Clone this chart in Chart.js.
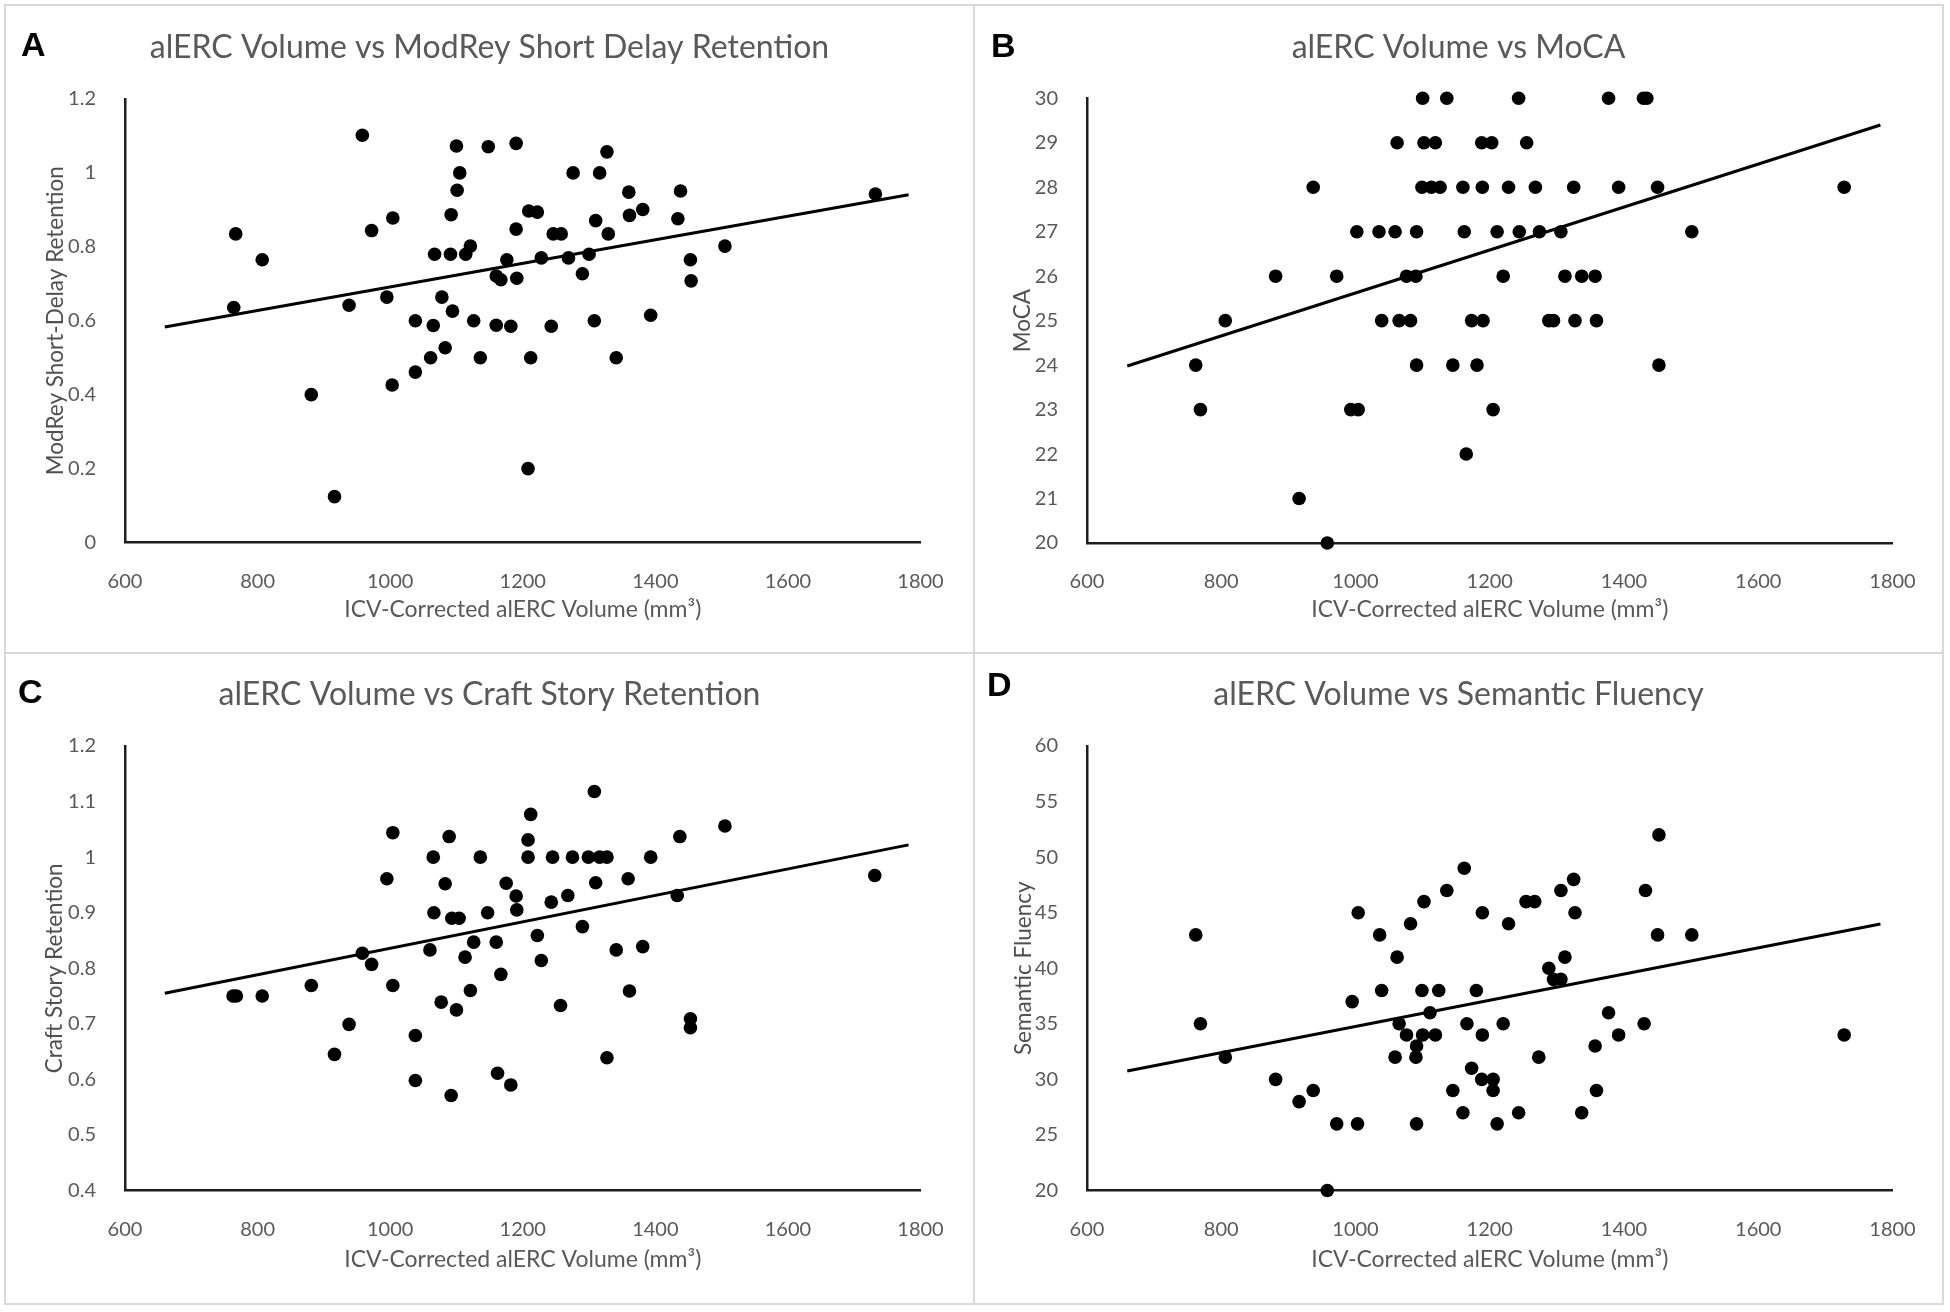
<!DOCTYPE html>
<html>
<head>
<meta charset="utf-8">
<script src="https://cdn.jsdelivr.net/npm/chart.js@4.4.1/dist/chart.umd.min.js"></script>
<style>
  body { margin: 0; background: #fff; width: 1950px; height: 1312px; position: relative; overflow: hidden; }
  .rule { position: absolute; background: #d9d9d9; }
  canvas { position: absolute; }
  .tag { position: absolute; font: bold 34px 'Liberation Sans', Arial, sans-serif; line-height: 34px; color: #000; }
</style>
</head>
<body>
<div class="rule" style="left:4px;top:4px;width:1940px;height:2px"></div>
<div class="rule" style="left:4px;top:1303px;width:1940px;height:2px"></div>
<div class="rule" style="left:4px;top:4px;width:2px;height:1301px"></div>
<div class="rule" style="left:1942px;top:4px;width:2px;height:1301px"></div>
<div class="rule" style="left:973px;top:4px;width:2px;height:1301px"></div>
<div class="rule" style="left:4px;top:652px;width:1940px;height:2px"></div>

<canvas id="chartA" width="967" height="646" style="left:6px;top:6px"></canvas>
<canvas id="chartB" width="967" height="646" style="left:975px;top:6px"></canvas>
<canvas id="chartC" width="967" height="649" style="left:6px;top:654px"></canvas>
<canvas id="chartD" width="967" height="649" style="left:975px;top:654px"></canvas>

<div class="tag" style="left:21px;top:27px">A</div>
<div class="tag" style="left:991px;top:28px">B</div>
<div class="tag" style="left:18px;top:674px">C</div>
<div class="tag" style="left:987px;top:667px">D</div>

<script>
// shared x axis
const volumeTicks = [600, 800, 1000, 1200, 1400, 1600, 1800];
const volumeLabel = 'ICV-Corrected alERC Volume (mm³)';

// A: ModRey short delay retention
const aVolume = [764,767,807,881,916,938,958,972,995,1004,1003,1038,1038,1061,1065,1067,1078,1083,1091,1092,1094,1100,1101,1105,1114,1121,1126,1136,1148,1160,1160,1167,1176,1182,1190,1190,1191,1208,1209,1212,1222,1228,1243,1246,1258,1269,1276,1290,1300,1308,1310,1316,1327,1329,1341,1360,1361,1381,1393,1434,1438,1453,1454,1505,1732];
const aScore = [0.636,0.835,0.765,0.40,0.124,0.642,1.102,0.844,0.664,0.878,0.426,0.60,0.461,0.50,0.587,0.78,0.664,0.527,0.78,0.887,0.626,1.073,0.953,1.0,0.78,0.802,0.60,0.50,1.071,0.721,0.588,0.711,0.765,0.585,1.08,0.848,0.715,0.20,0.897,0.50,0.894,0.77,0.585,0.835,0.835,0.77,1.0,0.727,0.78,0.60,0.871,1.0,1.057,0.835,0.50,0.948,0.885,0.901,0.615,0.876,0.951,0.765,0.708,0.802,0.943];
const aTicks = [0, 0.2, 0.4, 0.6, 0.8, 1, 1.2];
const aTrendX = [660, 1782];
const aTrendY = [0.583, 0.941];

// B: MoCA
const bVolume = [762,769,806,881,916,937,958,972,993,1004,1002,1035,1039,1059,1062,1065,1076,1082,1090,1091,1091,1099,1100,1102,1113,1119,1126,1136,1145,1160,1162,1165,1173,1181,1188,1189,1190,1203,1205,1211,1220,1228,1243,1244,1255,1268,1274,1288,1295,1306,1312,1325,1327,1337,1357,1359,1377,1392,1429,1434,1450,1452,1501,1728];
const bScore = [24,23,25,26,21,28,20,26,23,23,27,27,25,27,29,25,26,25,26,27,24,28,30,29,28,29,28,30,24,28,27,22,25,24,29,28,25,29,23,27,26,28,30,27,29,28,27,25,25,27,26,28,25,26,26,25,30,28,30,30,28,24,27,28];
const bTicks = [20, 21, 22, 23, 24, 25, 26, 27, 28, 29, 30];
const bTrendX = [660, 1782];
const bTrendY = [23.98, 29.4];

// C: Craft story retention
const cVolume = [763,768,807,881,916,938,958,972,995,1004,1004,1038,1038,1060,1065,1066,1077,1083,1089,1092,1093,1100,1104,1113,1121,1126,1136,1147,1160,1162,1167,1175,1190,1191,1182,1208,1208,1212,1222,1228,1243,1245,1257,1268,1275,1290,1299,1308,1310,1316,1327,1327,1341,1359,1361,1381,1393,1433,1437,1453,1453,1505,1731];
const cScore = [0.75,0.75,0.75,0.769,0.645,0.699,0.827,0.807,0.961,1.044,0.769,0.679,0.598,0.833,1.0,0.90,0.739,0.952,1.037,0.571,0.89,0.725,0.89,0.82,0.76,0.847,1.0,0.90,0.847,0.611,0.789,0.953,0.93,0.905,0.59,1.0,1.031,1.077,0.859,0.814,0.919,1.0,0.733,0.931,1.0,0.875,1.0,1.118,0.954,1.0,1.0,0.639,0.833,0.961,0.759,0.839,1.0,0.931,1.037,0.709,0.693,1.056,0.967];
const cTicks = [0.4, 0.5, 0.6, 0.7, 0.8, 0.9, 1, 1.1, 1.2];
const cTrendX = [660, 1782];
const cTrendY = [0.755, 1.022];

// D: Semantic fluency
const dVolume = [762,769,806,881,916,937,958,972,995,1003,1004,1036,1039,1059,1062,1065,1076,1082,1090,1091,1091,1099,1100,1102,1111,1119,1124,1136,1145,1160,1162,1166,1173,1180,1188,1189,1189,1205,1205,1211,1220,1228,1243,1254,1267,1273,1288,1295,1306,1306,1312,1325,1327,1337,1357,1359,1377,1392,1430,1432,1450,1452,1501,1728];
const dScore = [43,35,32,30,28,29,20,26,37,26,45,43,38,32,41,35,34,44,32,33,26,38,34,46,36,34,38,47,29,27,49,35,31,38,30,34,45,30,29,26,35,44,27,46,46,32,40,39,39,47,41,48,45,27,33,29,36,34,35,47,43,52,43,34];
const dTicks = [20, 25, 30, 35, 40, 45, 50, 55, 60];
const dTrendX = [660, 1782];
const dTrendY = [30.76, 43.99];

const grey = '#595959';

// title is centred on the whole panel, not on the padded box
const centerTitle = {
  id: 'centerTitle',
  afterLayout(chart) {
    const t = chart.titleBlock;
    if (t) { t.left = 0; t.right = chart.width; t.width = chart.width; }
  }
};

function pts(xs, ys) {
  return xs.map((x, i) => ({ x: x, y: ys[i] }));
}

function makePanel(id, p) {
  new Chart(document.getElementById(id), {
    type: 'scatter',
    plugins: [centerTitle],
    data: {
      datasets: [
        { data: pts(p.xs, p.ys), backgroundColor: '#000', borderWidth: 0,
          pointRadius: 6.8, pointHoverRadius: 6.8, clip: false },
        { data: pts(p.trendX, p.trendY), showLine: true, borderColor: '#000',
          borderWidth: 3, pointRadius: 0, clip: false }
      ]
    },
    options: {
      responsive: false,
      animation: false,
      layout: { padding: { left: 0, top: 0, right: p.padRight, bottom: 0 } },
      plugins: {
        legend: { display: false },
        tooltip: { enabled: false },
        title: {
          display: true, text: p.title, color: grey,
          font: { family: 'Lato', size: 32, weight: 'normal' },
          padding: { top: p.titleTop, bottom: p.titleBottom }
        }
      },
      scales: {
        x: {
          type: 'linear', min: 600, max: 1800,
          grid: { display: false },
          border: { color: '#1e1e1e', width: 2.5 },
          afterBuildTicks: s => { s.ticks = volumeTicks.map(v => ({ value: v })); },
          afterFit: s => { s.height = p.xH; },
          ticks: { color: grey, font: { family: 'Lato', size: 20 }, padding: 19, maxRotation: 0,
                   callback: v => String(v) },
          title: {
            display: true, text: volumeLabel, color: grey,
            font: { family: 'Lato', size: 23 },
            padding: { top: 0, bottom: p.xTitleBottom }
          }
        },
        y: {
          type: 'linear', min: p.yTicks[0], max: p.yTicks[p.yTicks.length - 1],
          grid: { display: false },
          border: { color: '#1e1e1e', width: 2.5 },
          afterBuildTicks: s => { s.ticks = p.yTicks.map(v => ({ value: v })); },
          afterFit: s => { s.width = p.yW; },
          ticks: { color: grey, font: { family: 'Lato', size: 20 }, padding: 21,
                   callback: v => String(v) },
          title: {
            display: true, text: p.yLabel, color: '#505050',
            font: { family: 'Lato', size: 22.5 },
            padding: { top: p.yTitleLeft, bottom: 0 }
          }
        }
      }
    }
  });
}

makePanel('chartA', {
  xs: aVolume, ys: aScore, trendX: aTrendX, trendY: aTrendY, yTicks: aTicks,
  title: 'alERC Volume vs ModRey Short Delay Retention', yLabel: 'ModRey Short-Delay Retention',
  padRight: 52.5, yW: 119, xH: 109.5, titleTop: 22.1, titleBottom: 32.5, xTitleBottom: 28.7, yTitleLeft: 36.2
});
makePanel('chartB', {
  xs: bVolume, ys: bScore, trendX: bTrendX, trendY: bTrendY, yTicks: bTicks,
  title: 'alERC Volume vs MoCA', yLabel: 'MoCA',
  padRight: 49.5, yW: 112, xH: 109, titleTop: 22.5, titleBottom: 31.4, xTitleBottom: 28.7, yTitleLeft: 34
});
makePanel('chartC', {
  xs: cVolume, ys: cScore, trendX: cTrendX, trendY: cTrendY, yTicks: cTicks,
  title: 'alERC Volume vs Craft Story Retention', yLabel: 'Craft Story Retention',
  padRight: 52.5, yW: 119, xH: 112.5, titleTop: 21.1, titleBottom: 32.5, xTitleBottom: 29.2, yTitleLeft: 35.5
});
makePanel('chartD', {
  xs: dVolume, ys: dScore, trendX: dTrendX, trendY: dTrendY, yTicks: dTicks,
  title: 'alERC Volume vs Semantic Fluency', yLabel: 'Semantic Fluency',
  padRight: 49.5, yW: 112, xH: 112.5, titleTop: 21.3, titleBottom: 32.3, xTitleBottom: 29.2, yTitleLeft: 35
});
</script>
</body>
</html>
